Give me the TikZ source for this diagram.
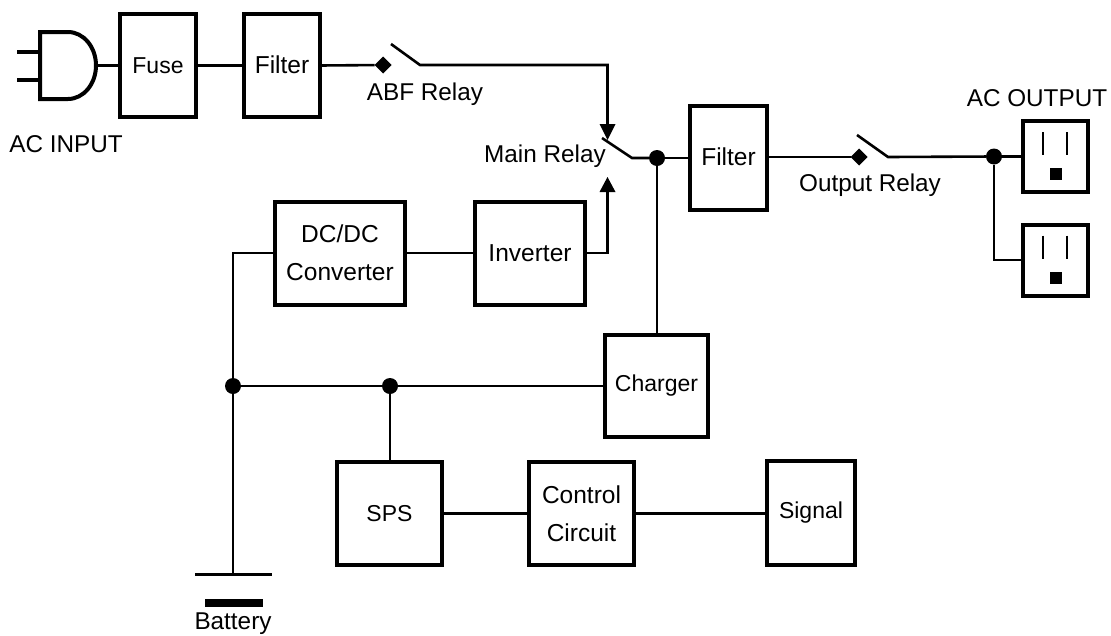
\documentclass[tikz,border=0pt]{standalone}
\usepackage{fontspec}
\usetikzlibrary{shapes.geometric}
\setmainfont{Liberation Sans}
\begin{document}
\begin{tikzpicture}[x=1pt,y=-1pt,
  lab/.style={inner sep=0pt,font=\fontsize{24.3}{30}\selectfont},
  bx/.style={draw=black,line width=4pt,fill=white,inner sep=0pt,outer sep=0pt,align=center,font=\fontsize{24.5}{38}\selectfont},
  bxs/.style={bx,font=\fontsize{23}{38}\selectfont},
  wire/.style={line width=2.6pt,draw=black},
  dot/.style={circle,fill=black,minimum size=16pt,inner sep=0pt,outer sep=0pt},
  dia/.style={diamond,fill=black,minimum size=17pt,inner sep=0pt,outer sep=0pt},
  arr/.style={fill=black,draw=none},
  outlet/.style={draw=black,line width=4pt,fill=white,minimum width=65pt,minimum height=71pt,inner sep=0pt,outer sep=0pt}]
\useasboundingbox (0,0) rectangle (1111,635);
% boxes
\node[bxs,minimum width=76pt,minimum height=103pt] (fuse) at (158,65.5) {\raisebox{0pt}{Fuse}};
\node[bx,minimum width=76pt,minimum height=103pt] (filtA) at (282,65.5) {\raisebox{2pt}{Filter}};
\node[bx,minimum width=77pt,minimum height=104pt] (filtB) at (728.5,157.5) {\raisebox{1pt}{Filter}};
\node[bx,minimum width=130pt,minimum height=103pt] (dcdc) at (340,253) {DC/DC\\Converter};
\node[bx,minimum width=110pt,minimum height=103pt] (inv) at (530,253) {Inverter};
\node[bxs,minimum width=103pt,minimum height=102pt] (chg) at (656.5,386) {Charger};
\node[bxs,minimum width=105pt,minimum height=103pt] (sps) at (389.5,513.5) {SPS};
\node[bx,minimum width=105pt,minimum height=103pt] (ctl) at (581.5,513.5) {Control\\Circuit};
\node[bxs,minimum width=88pt,minimum height=104pt] (sig) at (811,513) {Signal};
\node[outlet] (outA) at (1055.5,156.5) {};
\node[outlet] (outB) at (1055.5,260) {};
% plug
\coordinate (plugout) at (96,65.5);
\coordinate (prongA) at (17,52);
\coordinate (prongB) at (17,80);
\draw[line width=4pt,line join=miter] (40,32) -- (68,32) arc[start angle=90,end angle=-90,x radius=28pt,y radius=33.5pt] -- (40,99) -- cycle;
\draw[wire,line width=3.4pt] (prongA) -- (40,52);
\draw[wire,line width=3.4pt] (prongB) -- (40,80);
\draw[wire] (plugout) -- (fuse.west);
\draw[wire] (fuse.east) -- (filtA.west);
% ABF relay
\node[dia] (dA) at (383,65) {};
\coordinate (bladeAend) at (420,65);
\coordinate (bladeAtip) at (391,44);
\coordinate (mainin) at (607.5,125);
\draw[wire] (filtA.east) -- (dA);
\draw[wire] (bladeAtip) -- (bladeAend) -- (bladeAend -| mainin) -- (mainin);
\path[arr] (599.5,124) -- (615.5,124) -- (607.5,140) -- cycle;
% main relay
\coordinate (mainpivot) at (632,158);
\coordinate (maintip) at (602,138);
\node[dot] (jA) at (657,158) {};
\draw[wire] (maintip) -- (mainpivot) -- (jA);
\draw[wire] (jA) -- (filtB.west |- jA);
\draw[wire] (jA) -- (jA |- chg.north);
% inverter up
\coordinate (invup) at (607.5,192);
\path[arr] (599.5,192) -- (615.5,192) -- (607.5,177) -- cycle;
\draw[wire] (inv.east) -- (inv.east -| invup) -- (invup);
\draw[wire] (dcdc.east) -- (inv.west);
% output relay
\node[dia] (dB) at (859,157) {};
\coordinate (bladeBtip) at (857,135);
\coordinate (bladeBend) at (888,157);
\node[dot] (jB) at (994,156.5) {};
\draw[wire] (filtB.east |- dB) -- (dB);
\draw[wire] (bladeBtip) -- (bladeBend) -- (jB);
\draw[wire] (jB) -- (outA.west);
\draw[wire] (jB) -- (jB |- outB.west) -- (outB.west);
% outlet details
\foreach \o in {outA,outB}{
  \draw[line width=2.6pt] ([xshift=-12.5pt,yshift=24.5pt]\o.center) -- ([xshift=-12.5pt,yshift=1.5pt]\o.center);
  \draw[line width=2.6pt] ([xshift=11.5pt,yshift=24.5pt]\o.center) -- ([xshift=11.5pt,yshift=1.5pt]\o.center);
  \fill ([xshift=-5.5pt,yshift=-11.5pt]\o.center) rectangle ([xshift=6.5pt,yshift=-23.5pt]\o.center);
}
% battery bus
\node[dot] (jC) at (233,386) {};
\node[dot] (jD) at (390,386) {};
\coordinate (plateT) at (233,574);
\draw[wire] (dcdc.west) -- (dcdc.west -| jC) -- (jC);
\draw[wire] (jC) -- (plateT);
\draw[wire] (jC) -- (jD);
\draw[wire] (jD) -- (chg.west |- jD);
\draw[wire] (jD) -- (jD |- sps.north);
\draw[wire] (sps.east) -- (ctl.west);
\draw[wire] (ctl.east) -- (sig.west |- ctl.east);
\draw[line width=3.6pt] (195,574.5) -- (272,574.5);
\fill (205,599) rectangle (263,607);
% labels
\node[lab] (lacin) at (66,144) {AC INPUT};
\node[lab] (labf) at (425,94) {ABF Relay};
\node[lab] (lmain) at (545,156) {Main Relay};
\node[lab] (lout) at (870,185) {Output Relay};
\node[lab] (lacout) at (1037,98) {AC OUTPUT};
\node[lab] (lbat) at (233,624) {Battery};
\end{tikzpicture}
\end{document}
